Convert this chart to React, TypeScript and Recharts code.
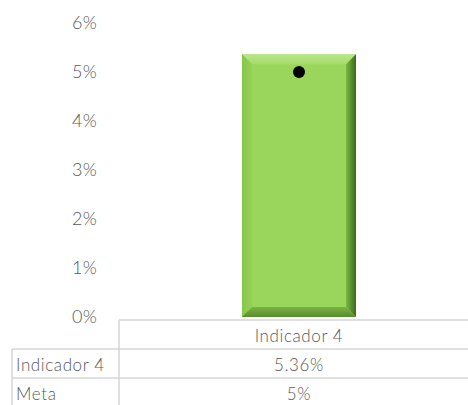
import React from 'react';
import { ComposedChart, Bar, Line, XAxis, YAxis } from 'recharts';

const categories = ['Indicador 4'];
const indicadorValues = [0.0536];
const metaValues = [0.05];
const yTicks = [0, 0.01, 0.02, 0.03, 0.04, 0.05, 0.06];
const rowLabels = ['Indicador 4', 'Meta'];

const data = categories.map((c, i) => ({ name: c, indicador: indicadorValues[i], meta: metaValues[i] }));
const seriesKeys = ['indicador', 'meta'];

const FONT = 'Lato, "Open Sans", sans-serif';
const TEXT = '#595959';
const GRID = '#d6d6d6';

const pct = (v: number) => `${+(v * 100).toFixed(2)}%`;

const BevelBar = (props: any) => {
  const { x, y, width, height } = props;
  if (!height || height <= 0) return null;
  const b = 10;
  const x2 = x + width;
  const y2 = y + height;
  return (
    <g>
      <rect x={x} y={y} width={width} height={height} fill="#9ad65c" />
      <polygon points={`${x},${y} ${x2},${y} ${x2 - b},${y + b} ${x + b},${y + b}`} fill="url(#bevTop)" />
      <polygon points={`${x},${y} ${x + b},${y + b} ${x + b},${y2 - b} ${x},${y2}`} fill="url(#bevLeft)" />
      <polygon points={`${x2},${y} ${x2},${y2} ${x2 - b},${y2 - b} ${x2 - b},${y + b}`} fill="url(#bevRight)" />
      <polygon points={`${x},${y2} ${x2},${y2} ${x2 - b},${y2 - b} ${x + b},${y2 - b}`} fill="url(#bevBottom)" />
    </g>
  );
};

const TableTick = (props: any) => {
  const { x, y, payload, index } = props;
  const i = index ?? 0;
  const top = y + 3;
  const r1 = top + 29;
  const r2 = r1 + 29;
  const bottom = 410;
  const leftCol = 119;
  const farLeft = 12;
  const right = 468;
  const values = [indicadorValues[i], metaValues[i]];
  return (
    <g fontFamily={FONT} fontSize={17} fontWeight={300} letterSpacing={0.6} fill={TEXT}>
      <line x1={leftCol} y1={top} x2={right} y2={top} stroke={GRID} strokeWidth={1.5} />
      <line x1={farLeft} y1={r1} x2={right} y2={r1} stroke={GRID} strokeWidth={1.5} />
      <line x1={farLeft} y1={r2} x2={right} y2={r2} stroke={GRID} strokeWidth={1.5} />
      <line x1={leftCol} y1={top} x2={leftCol} y2={bottom} stroke={GRID} strokeWidth={1.5} />
      <line x1={farLeft} y1={r1} x2={farLeft} y2={bottom} stroke={GRID} strokeWidth={1.5} />
      <text x={x} y={top + 15} textAnchor="middle" dominantBaseline="central">{payload.value}</text>
      {rowLabels.map((lab, k) => (
        <text key={'l' + k} x={16} y={r1 + 15 + k * 29} dominantBaseline="central">{lab}</text>
      ))}
      {values.map((v, k) => (
        <text key={'v' + k} x={x} y={r1 + 15 + k * 29} textAnchor="middle" dominantBaseline="central">{pct(v)}</text>
      ))}
    </g>
  );
};

const MetaDot = (props: any) => {
  const { cx, cy } = props;
  if (cx == null || cy == null) return null;
  return <circle cx={cx} cy={cy} r={6} fill="#000" />;
};

export default function App() {
  return (
    <div style={{ position: 'absolute', left: 0, top: 0, width: 468, height: 405, overflow: 'hidden', background: '#fff' }}>
      <ComposedChart width={480} height={405} data={data} margin={{ top: 23, right: 1, bottom: 0, left: 0 }}>
        <defs>
          <linearGradient id="bevTop" x1="0" y1="0" x2="0" y2="1">
            <stop offset="0%" stopColor="#b9e688" />
            <stop offset="100%" stopColor="#a6dc6c" />
          </linearGradient>
          <linearGradient id="bevLeft" x1="0" y1="0" x2="1" y2="0">
            <stop offset="0%" stopColor="#86c64a" />
            <stop offset="100%" stopColor="#95d257" />
          </linearGradient>
          <linearGradient id="bevRight" x1="0" y1="0" x2="1" y2="0">
            <stop offset="0%" stopColor="#7bb842" />
            <stop offset="100%" stopColor="#3e6a1b" />
          </linearGradient>
          <linearGradient id="bevBottom" x1="0" y1="0" x2="0" y2="1">
            <stop offset="0%" stopColor="#7ab443" />
            <stop offset="100%" stopColor="#5a8c2c" />
          </linearGradient>
        </defs>
        <XAxis
          dataKey="name"
          axisLine={false}
          tickLine={false}
          tickSize={0}
          tickMargin={0}
          height={88}
          interval={0}
          tick={<TableTick />}
        />
        <YAxis
          domain={[0, 0.06]}
          ticks={yTicks}
          tickFormatter={(v: number) => pct(v)}
          axisLine={false}
          tickLine={false}
          tickSize={0}
          tickMargin={22}
          width={119}
          tick={{ fill: TEXT, fontSize: 18, fontFamily: FONT, fontWeight: 300, letterSpacing: 0.3 }}
        />
        <Bar dataKey={seriesKeys[0]} barSize={114} shape={<BevelBar />} isAnimationActive={false} />
        <Line dataKey={seriesKeys[1]} stroke="none" dot={<MetaDot />} activeDot={false} isAnimationActive={false} />
      </ComposedChart>
    </div>
  );
}
